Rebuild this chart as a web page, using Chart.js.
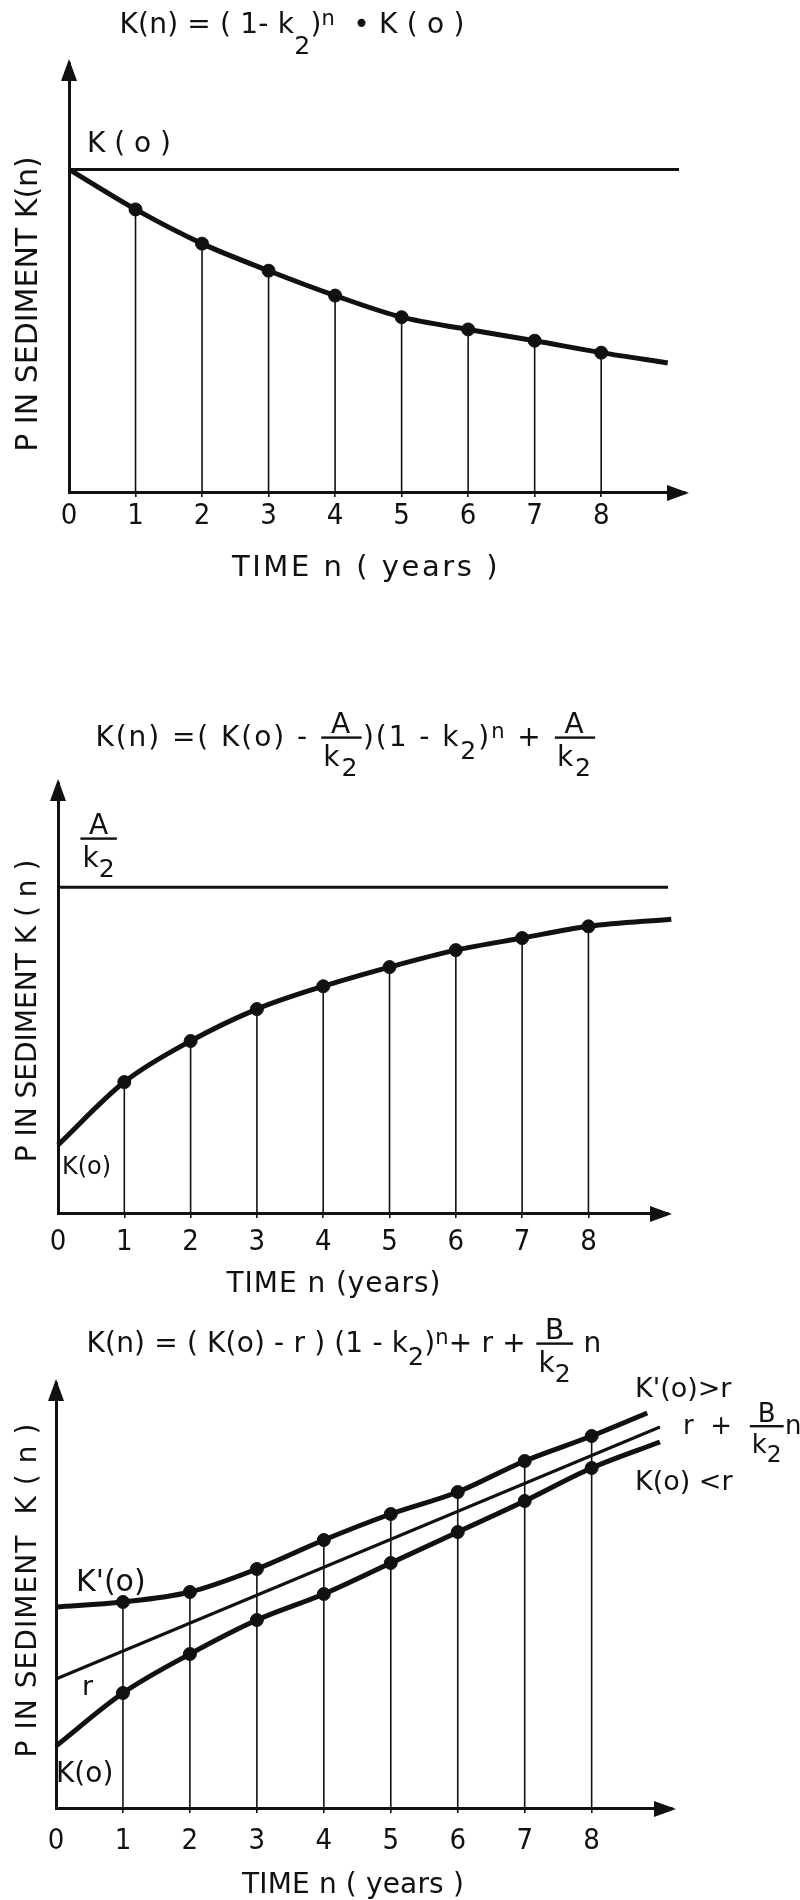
<!DOCTYPE html>
<html>
<head>
<meta charset="utf-8">
<script src="https://cdn.jsdelivr.net/npm/chart.js@4/dist/chart.umd.min.js"></script>
<style>
  html, body { margin: 0; background: #fff; }
  canvas { position: absolute; left: 0; }
</style>
</head>
<body>
<canvas id="decayChart" style="top:0px" width="800" height="600"></canvas>
<canvas id="loadChart" style="top:680px" width="800" height="630"></canvas>
<canvas id="trendChart" style="top:1310px" width="800" height="590"></canvas>
<script>
// years shown on every time axis
const yearTicks = [0, 1, 2, 3, 4, 5, 6, 7, 8];

// top: K(n) = (1-k2)^n * K(o)
const decayX = [0, 1, 2, 3, 4, 5, 6, 7, 8, 9.0];
const decayY = [10, 8.76, 7.7, 6.86, 6.09, 5.42, 5.04, 4.69, 4.32, 4.0];
const decayRefX = [0, 9.17];
const decayRefY = [10, 10];

// middle: approach to A/k2
const loadX = [0, 1, 2, 3, 4, 5, 6, 7, 8, 9.25];
const loadY = [2.09, 4.02, 5.28, 6.26, 6.96, 7.55, 8.07, 8.44, 8.8, 9.02];
const loadRefX = [0, 9.2];
const loadRefY = [10, 10];

// bottom: two starting values around the trend r + B/k2 n
const upperX = [0, 1, 2, 3, 4, 5, 6, 7, 8, 8.83];
const upperY = [10.05, 10.3, 10.8, 11.95, 13.4, 14.7, 15.8, 17.35, 18.6, 19.75];
const lowerX = [0, 1, 2, 3, 4, 5, 6, 7, 8, 9.02];
const lowerY = [3.1, 5.75, 7.7, 9.4, 10.7, 12.25, 13.8, 15.35, 17.0, 18.3];
const trendX = [0, 9.02];
const trendY = [6.45, 19.05];

const INK = '#111';
const FONT = "'DejaVu Sans', sans-serif";
const TICK_FONT = "'DejaVu Sans Condensed', 'DejaVu Sans', sans-serif";

const zip = (xs, ys) => xs.map((x, i) => ({ x: x, y: ys[i] }));
const isMarker = x => x > 0 && yearTicks.includes(x);

function setFont(ctx, size) { ctx.font = size + 'px ' + FONT; }

// tiny formula renderer: strings, {sub}, {sup}, {frac:[num, den]}
function measure(ctx, parts, size) {
  let w = 0;
  for (const p of parts) {
    if (typeof p === 'string') { setFont(ctx, size); w += ctx.measureText(p).width; }
    else if (p.sub !== undefined) { setFont(ctx, size * 0.9); w += ctx.measureText(p.sub).width; }
    else if (p.sup !== undefined) { setFont(ctx, size * 0.75); w += ctx.measureText(p.sup).width; }
    else if (p.frac) {
      w += Math.max(measure(ctx, p.frac[0], size), measure(ctx, p.frac[1], size)) + size * 0.25;
    }
  }
  return w;
}

function countChars(parts) {
  let n = 0;
  for (const p of parts) {
    if (typeof p === 'string') n += p.length;
    else if (p.sub !== undefined) n += p.sub.length;
    else if (p.sup !== undefined) n += p.sup.length;
    else if (p.frac) n += Math.max(countChars(p.frac[0]), countChars(p.frac[1])) + 1;
  }
  return n;
}

function drawParts(ctx, parts, x, y, size) {
  for (const p of parts) {
    if (typeof p === 'string') {
      setFont(ctx, size); ctx.fillText(p, x, y); x += ctx.measureText(p).width;
    } else if (p.sub !== undefined) {
      setFont(ctx, size * 0.9);
      ctx.fillText(p.sub, x, y + size * (p.drop || 0.45));
      x += ctx.measureText(p.sub).width;
    } else if (p.sup !== undefined) {
      setFont(ctx, size * 0.75); ctx.fillText(p.sup, x, y - size * 0.3); x += ctx.measureText(p.sup).width;
    } else if (p.frac) {
      const wn = measure(ctx, p.frac[0], size), wd = measure(ctx, p.frac[1], size);
      const w = Math.max(wn, wd) + size * 0.25;
      const bar = y - size * 0.3;
      drawParts(ctx, p.frac[0], x + (w - wn) / 2, bar - size * 0.15, size);
      drawParts(ctx, p.frac[1], x + (w - wd) / 2, bar + size * 0.3 + size * 0.73, size);
      ctx.fillRect(x + size * 0.05, bar - 1.2, w - size * 0.1, 2.4);
      x += w;
    }
  }
  return x;
}

const K2 = ['k', { sub: '2', drop: 0.35 }];

const dropLines = {
  id: 'dropLines',
  beforeDatasetsDraw(chart) {
    const ctx = chart.ctx, bottom = chart.chartArea.bottom;
    chart.data.datasets.forEach((ds, i) => {
      if (!ds.drop) return;
      chart.getDatasetMeta(i).data.forEach((pt, j) => {
        if (!isMarker(ds.data[j].x)) return;
        ctx.save();
        ctx.strokeStyle = INK;
        ctx.lineWidth = 1.6;
        ctx.beginPath();
        ctx.moveTo(pt.x, pt.y);
        ctx.lineTo(pt.x, bottom);
        ctx.stroke();
        ctx.restore();
      });
    });
  }
};

const axisArrows = {
  id: 'axisArrows',
  afterDraw(chart) {
    const { left, top, right, bottom } = chart.chartArea;
    const ctx = chart.ctx;
    ctx.save();
    ctx.fillStyle = INK;
    ctx.beginPath();
    ctx.moveTo(left, top - 4);
    ctx.lineTo(left - 8, top + 18);
    ctx.lineTo(left + 8, top + 18);
    ctx.closePath();
    ctx.fill();
    ctx.beginPath();
    ctx.moveTo(right + 4, bottom + 1);
    ctx.lineTo(right - 18, bottom - 7);
    ctx.lineTo(right - 18, bottom + 9);
    ctx.closePath();
    ctx.fill();
    ctx.restore();
  }
};

const panelText = {
  id: 'panelText',
  afterDraw(chart, args, opts) {
    const ctx = chart.ctx;
    ctx.save();
    ctx.fillStyle = INK;
    ctx.textBaseline = 'alphabetic';
    ctx.textAlign = 'left';
    for (const it of opts.items || []) {
      ctx.letterSpacing = '0px';
      if (it.width) {
        const natural = measure(ctx, it.parts, it.size);
        ctx.letterSpacing = ((it.width - natural) / countChars(it.parts)) + 'px';
      }
      const w = measure(ctx, it.parts, it.size);
      if (it.rotate) {
        ctx.save();
        ctx.translate(it.x + it.size * 0.36, it.y);
        ctx.rotate(-Math.PI / 2);
        drawParts(ctx, it.parts, -w / 2, 0, it.size);
        ctx.restore();
      } else {
        const x0 = it.align === 'center' ? it.x - w / 2 : it.x;
        drawParts(ctx, it.parts, x0, it.y, it.size);
      }
    }
    ctx.letterSpacing = '0px';
    ctx.restore();
  }
};

const AXIS_BAND = 70; // room kept under the time axis for its numbers

function makePanel(id, opt) {
  const pad = Object.assign({}, opt.padding, { bottom: opt.padding.bottom - AXIS_BAND });
  return new Chart(document.getElementById(id), {
    type: 'line',
    data: { datasets: opt.datasets },
    options: {
      responsive: false,
      animation: false,
      devicePixelRatio: 1,
      layout: { padding: pad },
      elements: { line: { borderColor: INK, fill: false } },
      plugins: {
        legend: { display: false },
        tooltip: { enabled: false },
        panelText: { items: opt.texts }
      },
      scales: {
        x: {
          type: 'linear', min: 0, max: opt.xMax,
          afterFit: s => { s.height = AXIS_BAND; },
          grid: {
            display: true, drawOnChartArea: false, drawTicks: true, tickLength: 5, lineWidth: 1.6,
            color: c => (c.tick && isMarker(c.tick.value)) ? INK : 'rgba(0,0,0,0)'
          },
          border: { display: true, color: INK, width: 3 },
          ticks: {
            stepSize: 1, padding: opt.tickPad, color: INK, autoSkip: false, maxRotation: 0,
            font: { family: TICK_FONT, size: 29 },
            callback: v => yearTicks.includes(v) ? String(v) : ''
          }
        },
        y: {
          type: 'linear', min: 0, max: opt.yMax,
          afterFit: s => { s.width = 0; },
          grid: { display: false },
          border: { display: true, color: INK, width: 3 },
          ticks: { display: false }
        }
      }
    },
    plugins: [dropLines, axisArrows, panelText]
  });
}

const curveStyle = {
  borderColor: INK, borderWidth: 5, cubicInterpolationMode: 'monotone',
  pointRadius: c => isMarker(c.raw.x) ? 6.5 : 0,
  pointBackgroundColor: INK, pointBorderColor: INK, pointBorderWidth: 1, clip: false
};
const thinStyle = { borderColor: INK, borderWidth: 3, pointRadius: 0, clip: false };

makePanel('decayChart', {
  // origin (69, 492), one year = 66.5 px
  padding: { left: 69, top: 63, right: 115, bottom: 108 },
  xMax: 9.26, yMax: 13.3, tickPad: 2,
  datasets: [
    Object.assign({ data: zip(decayRefX, decayRefY) }, thinStyle),
    Object.assign({ data: zip(decayX, decayY), drop: true }, curveStyle)
  ],
  texts: [
    { parts: ['K(n) = ( 1- k', { sub: '2', drop: 0.75 }, ')', { sup: 'n' }, '  \u2022 K ( o )'],
      x: 292, y: 33, size: 28, align: 'center', width: 345 },
    { parts: ['K ( o )'], x: 87, y: 152, size: 28 },
    { parts: ['TIME n ( years )'], x: 366, y: 576, size: 29, align: 'center', width: 268 },
    { parts: ['P IN SEDIMENT K(n)'], x: 26, y: 304, size: 30, rotate: true }
  ]
});

makePanel('loadChart', {
  padding: { left: 58, top: 103, right: 132, bottom: 97 },
  xMax: 9.2, yMax: 13.2, tickPad: 7,
  datasets: [
    Object.assign({ data: zip(loadRefX, loadRefY) }, thinStyle),
    Object.assign({ data: zip(loadX, loadY), drop: true }, curveStyle)
  ],
  texts: [
    { parts: ['K(n) =( K(o) - ', { frac: [['A'], K2] }, ')(1 - k', { sub: '2' }, ')', { sup: 'n' }, ' + ', { frac: [['A'], K2] }],
      x: 346, y: 66, size: 28, align: 'center', width: 505 },
    { parts: [{ frac: [['A'], K2] }], x: 79, y: 167, size: 28 },
    { parts: ['K(o)'], x: 62, y: 494, size: 24 },
    { parts: ['TIME n (years)'], x: 334, y: 612, size: 28, align: 'center', width: 215 },
    { parts: ['P IN SEDIMENT K ( n )'], x: 26, y: 331, size: 28, rotate: true }
  ]
});

makePanel('trendChart', {
  // origin (56, 498), one year = 67 px
  padding: { left: 56, top: 73, right: 128, bottom: 92 },
  xMax: 9.2, yMax: 21.25, tickPad: 11,
  datasets: [
    Object.assign({ data: zip(trendX, trendY) }, thinStyle),
    Object.assign({ data: zip(upperX, upperY), drop: true }, curveStyle),
    Object.assign({ data: zip(lowerX, lowerY) }, curveStyle)
  ],
  texts: [
    { parts: ['K(n) = ( K(o) - r ) (1 - k', { sub: '2' }, ')', { sup: 'n' }, '+ r + ', { frac: [['B'], K2] }, ' n'],
      x: 344, y: 42, size: 28, align: 'center', width: 515 },
    { parts: ["K'(o)>r"], x: 635, y: 87, size: 27 },
    { parts: ['r  +  ', { frac: [['B'], K2] }, 'n'], x: 683, y: 124, size: 26 },
    { parts: ['K(o) <r'], x: 635, y: 180, size: 27 },
    { parts: ["K'(o)"], x: 76, y: 281, size: 30 },
    { parts: ['r'], x: 82, y: 385, size: 27 },
    { parts: ['K(o)'], x: 56, y: 472, size: 28 },
    { parts: ['TIME n ( years )'], x: 353, y: 583, size: 28, align: 'center', width: 222 },
    { parts: ['P IN SEDIMENT  K ( n )'], x: 26, y: 280, size: 28, rotate: true, width: 335 }
  ]
});
</script>
</body>
</html>
